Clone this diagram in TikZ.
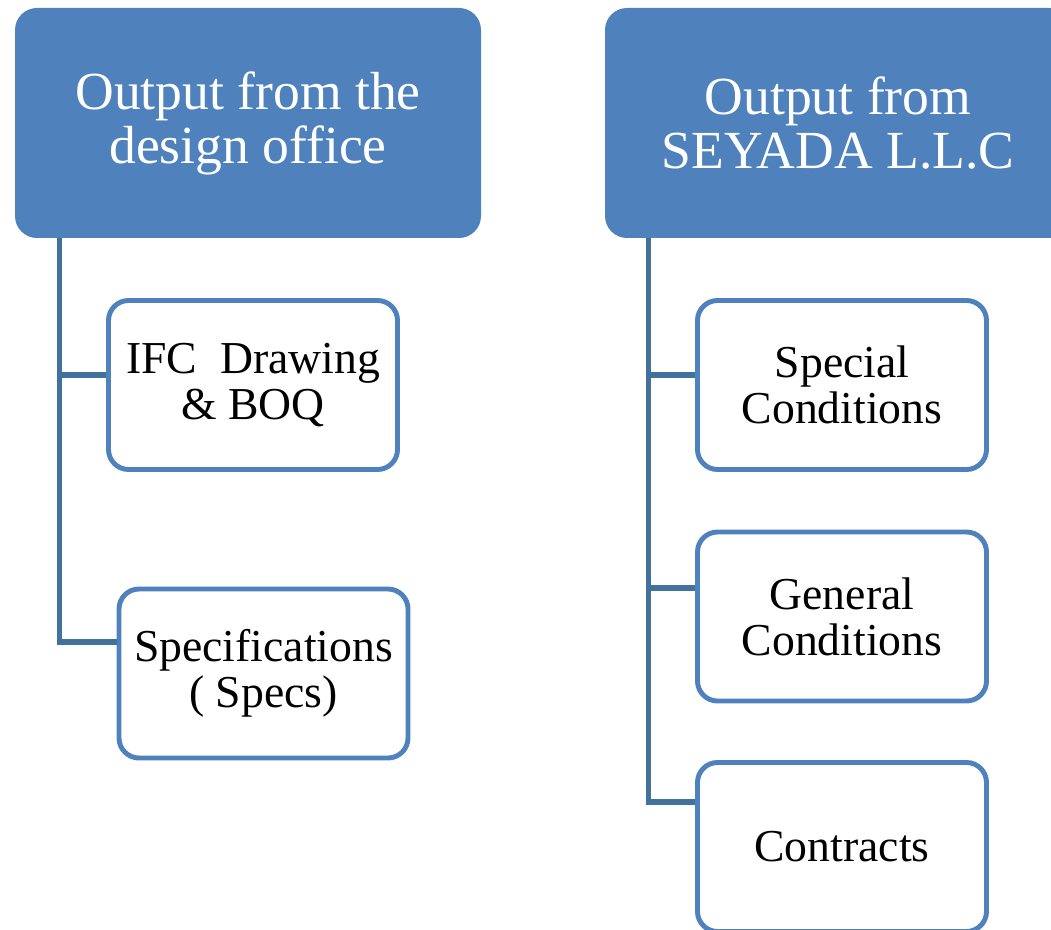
\documentclass[tikz,border=0pt]{standalone}
\usepackage{fontspec}
\setmainfont{Liberation Serif}
\usetikzlibrary{calc}
\definecolor{boxblue}{HTML}{4F81BD}
\definecolor{linkblue}{HTML}{41719C}

\begin{document}
\begin{tikzpicture}[
  head/.style={fill=boxblue, rounded corners=0.44cm, minimum width=9.32cm, minimum height=4.6cm,
    inner sep=0, text=white, align=center, font=\fontsize{30.5}{30.7}\selectfont},
  item/.style={draw=boxblue, line width=2.8pt, fill=white, rounded corners=0.4cm, minimum width=5.78cm,
    minimum height=3.38cm, inner sep=0, align=center, font=\fontsize{26}{26.2}\selectfont},
  link/.style={draw=linkblue, line width=3pt}
]

\useasboundingbox (0,0) rectangle (21.02,-18.6);
\clip (0,0) rectangle (21.02,-18.6);

\def\hy{-2.46};
\def\d{0.9};

% headers
\node[head] (design) at (4.96, \hy) {Output from the\\design office};
\node[head] (seyada) at (16.76, \hy) {Output from\\SEYADA L.L.C};

% left column
\node[item] (ifc) at (5.06, -7.70) {IFC\ \ Drawing\\\& BOQ};
\node[item] (specs) at (5.27, -13.47) {Specifications\\( Specs)};

% right column
\node[item] (special) at (16.84, -7.70) {Special\\Conditions};
\node[item] (general) at (16.84, -12.33) {General\\Conditions};
\node[item] (contracts) at (16.84, -16.94) {Contracts};

% connectors
\draw[link] ([xshift=\d cm]design.south west) |- ([yshift=0.2cm]ifc.west);
\draw[link] ([xshift=\d cm]design.south west) |- ([yshift=0.63cm]specs.west);
\draw[link] ([xshift=0.88cm]seyada.south west) |- ([yshift=0.2cm]special.west);
\draw[link] ([xshift=0.88cm]seyada.south west) |- ([yshift=0.57cm]general.west);
\draw[link] ([xshift=0.88cm]seyada.south west) |- ([yshift=0.9cm]contracts.west);

\end{tikzpicture}
\end{document}
